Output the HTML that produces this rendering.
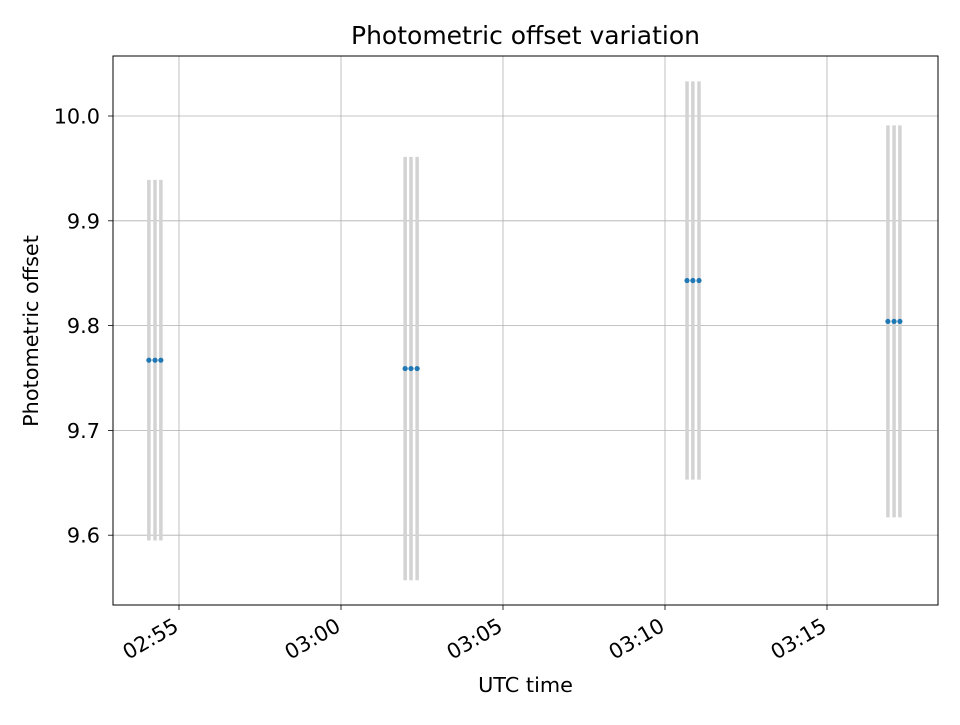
<!DOCTYPE html>
<html><head><meta charset="utf-8"><style>
body{margin:0;background:#fff;}
svg text{font-family:"DejaVu Sans","Liberation Sans",sans-serif;fill:#000;}
</style></head><body>
<svg id="chart" width="960" height="720" xmlns="http://www.w3.org/2000/svg">
<rect width="960" height="720" fill="#fff"/>
<g id="grid"></g><g id="marks"></g><g id="axes"></g>
</svg>
<script>
// time in minutes relative to 02:55
const times = [-0.93,-0.74,-0.56, 6.98,7.16,7.35, 15.68,15.86,16.05, 21.88,22.07,22.25];
const values = [9.767,9.767,9.767, 9.759,9.759,9.759, 9.843,9.843,9.843, 9.804,9.804,9.804];
const errors = [0.172,0.172,0.172, 0.202,0.202,0.202, 0.19,0.19,0.19, 0.187,0.187,0.187];
const xTickMinutes = [0,5,10,15,20];
const xTickLabels = ["02:55","03:00","03:05","03:10","03:15"];
const yTicks = [9.6,9.7,9.8,9.9,10.0];
const yTickLabels = ["9.6","9.7","9.8","9.9","10.0"];

const L=113,R=938,T=56,B=605;
const x = m => 179 + m*32.4;
const y = v => 116 + (10.0 - v)*1048;
const NS="http://www.w3.org/2000/svg";
function mk(parent, tag, attrs){const e=document.createElementNS(NS,tag);for(const k in attrs)e.setAttribute(k,attrs[k]);parent.appendChild(e);return e;}
const grid=document.getElementById('grid'),marks=document.getElementById('marks'),axes=document.getElementById('axes');

xTickMinutes.forEach((m,i)=>{
  const g=mk(grid,'line',{x1:x(m),x2:x(m),y1:T,y2:B,stroke:'#b0b0b0','stroke-width':0.8});
  
  const t=mk(axes,'line',{x1:x(m),x2:x(m),y1:B,y2:B+5,stroke:'#000','stroke-width':0.8});
  
  const px=x(m)+1, py=B+25;
  const tx=mk(axes,'text',{x:px,y:py,'font-size':20.8,'text-anchor':'end',transform:`rotate(-30 ${px} ${py})`});
  tx.textContent=xTickLabels[i];
  
});
yTicks.forEach((v,i)=>{
  const g=mk(grid,'line',{x1:L,x2:R,y1:y(v),y2:y(v),stroke:'#b0b0b0','stroke-width':0.8});
  
  const t=mk(axes,'line',{x1:L-5,x2:L,y1:y(v),y2:y(v),stroke:'#000','stroke-width':0.8});
  
  const tx=mk(axes,'text',{x:L-13,y:y(v)+7.5,'font-size':20.8,'text-anchor':'end'});
  tx.textContent=yTickLabels[i];
  
});
times.forEach((m,i)=>{
  const e=mk(marks,'line',{x1:x(m),x2:x(m),y1:y(values[i]+errors[i]),y2:y(values[i]-errors[i]),stroke:'#d3d3d3','stroke-width':3.5});
  
});
times.forEach((m,i)=>{
  const c=mk(marks,'circle',{cx:x(m),cy:y(values[i]),r:2.6,fill:'#1f77b4'});
  
});
const f=mk(axes,'rect',{x:L,y:T,width:R-L,height:B-T,fill:'none',stroke:'#000','stroke-width':1});

const ti=mk(axes,'text',{x:(L+R)/2,y:44,'font-size':25,'text-anchor':'middle'});ti.textContent='Photometric offset variation';

const xl=mk(axes,'text',{x:(L+R)/2,y:692,'font-size':20.8,'text-anchor':'middle'});xl.textContent='UTC time';

const yl=mk(axes,'text',{x:38,y:331,'font-size':20.8,'text-anchor':'middle',transform:'rotate(-90 38 331)'});yl.textContent='Photometric offset';

</script>
</body></html>
